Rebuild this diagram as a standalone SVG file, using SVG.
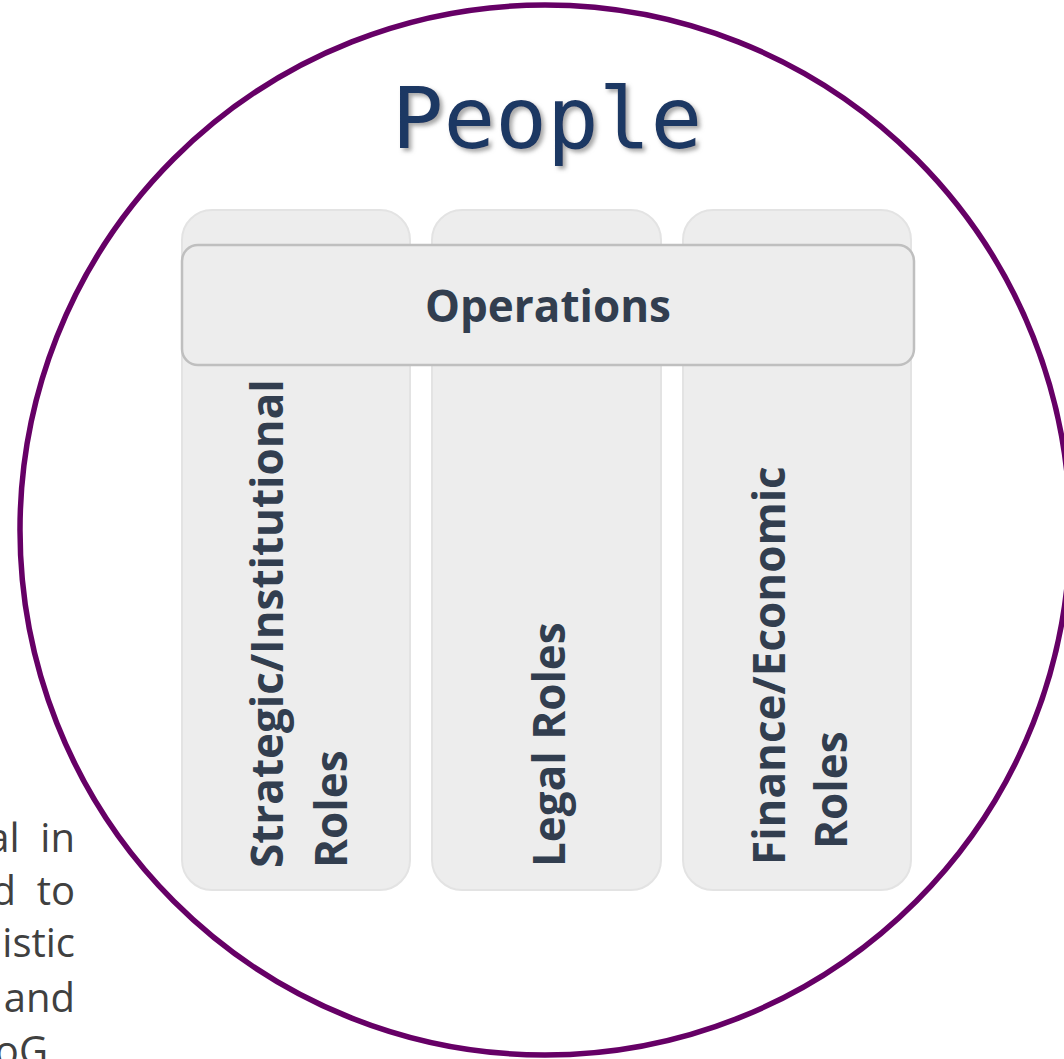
<svg xmlns="http://www.w3.org/2000/svg" width="1064" height="1059" viewBox="0 0 1064 1059">
<defs>
<filter id="sh" x="-10%" y="-20%" width="130%" height="150%">
<feDropShadow dx="3" dy="3" stdDeviation="2" flood-color="#808080" flood-opacity="0.7"/>
</filter>
<style>
.col{fill:#ededed;stroke:#e3e3e3;stroke-width:2}
.ops{fill:#ededed;stroke:#bfbfbf;stroke-width:2.5}
.lbl{font-family:"Open Sans","Noto Sans",sans-serif;font-weight:bold;font-size:44px;fill:#323e4f}
.para{font-family:"Open Sans","Noto Sans",sans-serif;font-size:40px;fill:#404040;white-space:pre}
</style>
</defs>
<rect width="1064" height="1059" fill="#ffffff"/>
<g id="paragraph">
<text class="para" x="75" y="852" text-anchor="end">al  in</text>
<text class="para" x="75" y="905" text-anchor="end">d  to</text>
<text class="para" x="75" y="957" text-anchor="end">istic</text>
<text class="para" x="75" y="1012" text-anchor="end">and</text>
<text class="para" x="48" y="1065" text-anchor="end">oG</text>
</g>
<g id="people-circle">
<circle cx="545" cy="530" r="525" fill="none" stroke="#660066" stroke-width="5.5"/>
<text x="547" y="148" text-anchor="middle" font-family="'DejaVu Sans Mono','Liberation Mono',monospace" font-size="86" fill="#1f3864" filter="url(#sh)">People</text>
</g>
<g id="col-strategic">
<rect class="col" x="182" y="210" width="228" height="680" rx="30"/>
<text class="lbl" transform="translate(283,868) rotate(-90)">Strategic/Institutional</text>
<text class="lbl" transform="translate(347,868) rotate(-90)">Roles</text>
</g>
<g id="col-legal">
<rect class="col" x="432" y="210" width="229" height="680" rx="30"/>
<text class="lbl" transform="translate(565,867) rotate(-90)">Legal Roles</text>
</g>
<g id="col-finance">
<rect class="col" x="683" y="210" width="228" height="680" rx="30"/>
<text class="lbl" transform="translate(785,865) rotate(-90)">Finance/Economic</text>
<text class="lbl" transform="translate(847,849) rotate(-90)">Roles</text>
</g>
<g id="operations">
<rect class="ops" x="182" y="245" width="732" height="120" rx="16"/>
<text class="lbl" x="548" y="322" text-anchor="middle">Operations</text>
</g>
<g id="connectors"></g>
</svg>
